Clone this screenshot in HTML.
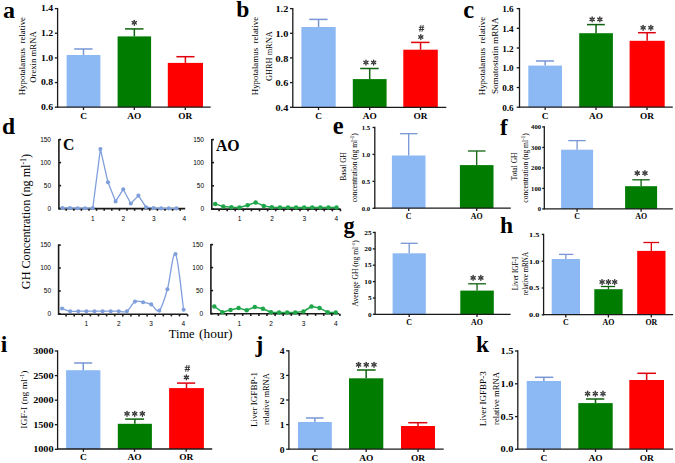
<!DOCTYPE html>
<html><head><meta charset="utf-8"><style>
html,body{margin:0;padding:0;background:#fff;}
svg{display:block;}
</style></head><body>
<svg width="675" height="463" viewBox="0 0 675 463">
<rect width="675" height="463" fill="#fff"/>
<rect x="66.6" y="55" width="33.8" height="52.2" fill="#8cb8f4"/>
<line x1="83.5" y1="55" x2="83.5" y2="49" stroke="#7896d6" stroke-width="1.5" />
<line x1="74.2" y1="49" x2="92.5" y2="49" stroke="#7896d6" stroke-width="1.5" />
<rect x="117.6" y="36.4" width="33.5" height="70.8" fill="#007c00"/>
<line x1="134.35" y1="36.4" x2="134.35" y2="28.9" stroke="#0f620f" stroke-width="1.5" />
<line x1="125" y1="28.9" x2="143.5" y2="28.9" stroke="#0f620f" stroke-width="1.5" />
<rect x="167.8" y="62.9" width="35.2" height="44.3" fill="#ff0000"/>
<line x1="185.4" y1="62.9" x2="185.4" y2="56.7" stroke="#e0000c" stroke-width="1.5" />
<line x1="176.4" y1="56.7" x2="194.5" y2="56.7" stroke="#e0000c" stroke-width="1.5" />
<line x1="57.6" y1="7.95" x2="57.6" y2="107.85" stroke="#1a1a1a" stroke-width="1.3" />
<line x1="57.6" y1="107.2" x2="210.7" y2="107.2" stroke="#1a1a1a" stroke-width="1.3" />
<line x1="54.8" y1="8.6" x2="57.6" y2="8.6" stroke="#1a1a1a" stroke-width="1.3" />
<text x="0" y="0" font-family="'Liberation Serif', serif" font-size="8.5" font-weight="bold" text-anchor="end" fill="#000" transform="translate(53.1 11.45) scale(1.1500 1)" >1.4</text>
<line x1="54.8" y1="33.25" x2="57.6" y2="33.25" stroke="#1a1a1a" stroke-width="1.3" />
<text x="0" y="0" font-family="'Liberation Serif', serif" font-size="8.5" font-weight="bold" text-anchor="end" fill="#000" transform="translate(53.1 36.1) scale(1.1500 1)" >1.2</text>
<line x1="54.8" y1="57.9" x2="57.6" y2="57.9" stroke="#1a1a1a" stroke-width="1.3" />
<text x="0" y="0" font-family="'Liberation Serif', serif" font-size="8.5" font-weight="bold" text-anchor="end" fill="#000" transform="translate(53.1 60.75) scale(1.1500 1)" >1.0</text>
<line x1="54.8" y1="82.55" x2="57.6" y2="82.55" stroke="#1a1a1a" stroke-width="1.3" />
<text x="0" y="0" font-family="'Liberation Serif', serif" font-size="8.5" font-weight="bold" text-anchor="end" fill="#000" transform="translate(53.1 85.4) scale(1.1500 1)" >0.8</text>
<line x1="54.8" y1="107.2" x2="57.6" y2="107.2" stroke="#1a1a1a" stroke-width="1.3" />
<text x="0" y="0" font-family="'Liberation Serif', serif" font-size="8.5" font-weight="bold" text-anchor="end" fill="#000" transform="translate(53.1 110.05) scale(1.1500 1)" >0.6</text>
<line x1="83.5" y1="107.2" x2="83.5" y2="110" stroke="#1a1a1a" stroke-width="1.3" />
<text x="0" y="0" font-family="'Liberation Serif', serif" font-size="8.4" font-weight="bold" text-anchor="middle" fill="#000" transform="translate(83.5 119.11) scale(1.1100 1)" >C</text>
<line x1="134.3" y1="107.2" x2="134.3" y2="110" stroke="#1a1a1a" stroke-width="1.3" />
<text x="0" y="0" font-family="'Liberation Serif', serif" font-size="8.4" font-weight="bold" text-anchor="middle" fill="#000" transform="translate(134.3 119.11) scale(1.1100 1)" >AO</text>
<line x1="185.3" y1="107.2" x2="185.3" y2="110" stroke="#1a1a1a" stroke-width="1.3" />
<text x="0" y="0" font-family="'Liberation Serif', serif" font-size="8.4" font-weight="bold" text-anchor="middle" fill="#000" transform="translate(185.3 119.11) scale(1.1100 1)" >OR</text>
<text x="0" y="0" font-family="'Liberation Serif', serif" font-size="8.9" font-weight="normal" text-anchor="middle" fill="#000" transform="translate(24.5 56.15) rotate(-90)" >Hypotalamus&#160; relative</text>
<text x="0" y="0" font-family="'Liberation Serif', serif" font-size="8.8" font-weight="normal" text-anchor="middle" fill="#000" transform="translate(36.4 57.05) rotate(-90) scale(0.9892 1)" >Orexin mRNA</text>
<line x1="134.3" y1="21.9" x2="134.3" y2="20.35" stroke="#333" stroke-width="1.35" stroke-linecap="round"/>
<line x1="135.08" y1="22.35" x2="136.42" y2="21.57" stroke="#333" stroke-width="1.35" stroke-linecap="round"/>
<line x1="135.08" y1="23.25" x2="136.42" y2="24.03" stroke="#333" stroke-width="1.35" stroke-linecap="round"/>
<line x1="134.3" y1="23.7" x2="134.3" y2="25.25" stroke="#333" stroke-width="1.35" stroke-linecap="round"/>
<line x1="133.52" y1="23.25" x2="132.18" y2="24.03" stroke="#333" stroke-width="1.35" stroke-linecap="round"/>
<line x1="133.52" y1="22.35" x2="132.18" y2="21.57" stroke="#333" stroke-width="1.35" stroke-linecap="round"/>
<rect x="301.4" y="27" width="34.3" height="80.3" fill="#8cb8f4"/>
<line x1="318.55" y1="27" x2="318.55" y2="19.4" stroke="#7896d6" stroke-width="1.5" />
<line x1="309.2" y1="19.4" x2="327.6" y2="19.4" stroke="#7896d6" stroke-width="1.5" />
<rect x="352.8" y="79.1" width="33.8" height="28.2" fill="#007c00"/>
<line x1="369.7" y1="79.1" x2="369.7" y2="68.5" stroke="#0f620f" stroke-width="1.5" />
<line x1="360.2" y1="68.5" x2="378.7" y2="68.5" stroke="#0f620f" stroke-width="1.5" />
<rect x="403.3" y="49.7" width="34.5" height="57.6" fill="#ff0000"/>
<line x1="420.55" y1="49.7" x2="420.55" y2="42.4" stroke="#e0000c" stroke-width="1.5" />
<line x1="411.1" y1="42.4" x2="429.5" y2="42.4" stroke="#e0000c" stroke-width="1.5" />
<line x1="292.8" y1="7.95" x2="292.8" y2="107.95" stroke="#1a1a1a" stroke-width="1.3" />
<line x1="292.8" y1="107.3" x2="446.3" y2="107.3" stroke="#1a1a1a" stroke-width="1.3" />
<line x1="290" y1="8.6" x2="292.8" y2="8.6" stroke="#1a1a1a" stroke-width="1.3" />
<text x="0" y="0" font-family="'Liberation Serif', serif" font-size="8.2" font-weight="bold" text-anchor="end" fill="#000" transform="translate(288.3 12.25) scale(1.2500 1)" >1.2</text>
<line x1="290" y1="33.3" x2="292.8" y2="33.3" stroke="#1a1a1a" stroke-width="1.3" />
<text x="0" y="0" font-family="'Liberation Serif', serif" font-size="8.2" font-weight="bold" text-anchor="end" fill="#000" transform="translate(288.3 36.95) scale(1.2500 1)" >1.0</text>
<line x1="290" y1="57.9" x2="292.8" y2="57.9" stroke="#1a1a1a" stroke-width="1.3" />
<text x="0" y="0" font-family="'Liberation Serif', serif" font-size="8.2" font-weight="bold" text-anchor="end" fill="#000" transform="translate(288.3 61.55) scale(1.2500 1)" >0.8</text>
<line x1="290" y1="82.6" x2="292.8" y2="82.6" stroke="#1a1a1a" stroke-width="1.3" />
<text x="0" y="0" font-family="'Liberation Serif', serif" font-size="8.2" font-weight="bold" text-anchor="end" fill="#000" transform="translate(288.3 86.25) scale(1.2500 1)" >0.6</text>
<line x1="290" y1="107.3" x2="292.8" y2="107.3" stroke="#1a1a1a" stroke-width="1.3" />
<text x="0" y="0" font-family="'Liberation Serif', serif" font-size="8.2" font-weight="bold" text-anchor="end" fill="#000" transform="translate(288.3 110.95) scale(1.2500 1)" >0.4</text>
<line x1="318.5" y1="107.3" x2="318.5" y2="110.1" stroke="#1a1a1a" stroke-width="1.3" />
<text x="0" y="0" font-family="'Liberation Serif', serif" font-size="8.4" font-weight="bold" text-anchor="middle" fill="#000" transform="translate(318.5 119.11) scale(1.1100 1)" >C</text>
<line x1="369.7" y1="107.3" x2="369.7" y2="110.1" stroke="#1a1a1a" stroke-width="1.3" />
<text x="0" y="0" font-family="'Liberation Serif', serif" font-size="8.4" font-weight="bold" text-anchor="middle" fill="#000" transform="translate(369.7 119.11) scale(1.1100 1)" >AO</text>
<line x1="420.5" y1="107.3" x2="420.5" y2="110.1" stroke="#1a1a1a" stroke-width="1.3" />
<text x="0" y="0" font-family="'Liberation Serif', serif" font-size="8.4" font-weight="bold" text-anchor="middle" fill="#000" transform="translate(420.5 119.11) scale(1.1100 1)" >OR</text>
<text x="0" y="0" font-family="'Liberation Serif', serif" font-size="8.9" font-weight="normal" text-anchor="middle" fill="#000" transform="translate(258.4 56.05) rotate(-90)" >Hypotalamus&#160; relative</text>
<text x="0" y="0" font-family="'Liberation Serif', serif" font-size="8.8" font-weight="normal" text-anchor="middle" fill="#000" transform="translate(272.1 56.15) rotate(-90) scale(0.9456 1)" >GHRH mRNA</text>
<line x1="365.95" y1="61.6" x2="365.95" y2="60.05" stroke="#333" stroke-width="1.35" stroke-linecap="round"/>
<line x1="366.73" y1="62.05" x2="368.07" y2="61.27" stroke="#333" stroke-width="1.35" stroke-linecap="round"/>
<line x1="366.73" y1="62.95" x2="368.07" y2="63.73" stroke="#333" stroke-width="1.35" stroke-linecap="round"/>
<line x1="365.95" y1="63.4" x2="365.95" y2="64.95" stroke="#333" stroke-width="1.35" stroke-linecap="round"/>
<line x1="365.17" y1="62.95" x2="363.83" y2="63.73" stroke="#333" stroke-width="1.35" stroke-linecap="round"/>
<line x1="365.17" y1="62.05" x2="363.83" y2="61.27" stroke="#333" stroke-width="1.35" stroke-linecap="round"/>
<line x1="373.65" y1="61.6" x2="373.65" y2="60.05" stroke="#333" stroke-width="1.35" stroke-linecap="round"/>
<line x1="374.43" y1="62.05" x2="375.77" y2="61.27" stroke="#333" stroke-width="1.35" stroke-linecap="round"/>
<line x1="374.43" y1="62.95" x2="375.77" y2="63.73" stroke="#333" stroke-width="1.35" stroke-linecap="round"/>
<line x1="373.65" y1="63.4" x2="373.65" y2="64.95" stroke="#333" stroke-width="1.35" stroke-linecap="round"/>
<line x1="372.87" y1="62.95" x2="371.53" y2="63.73" stroke="#333" stroke-width="1.35" stroke-linecap="round"/>
<line x1="372.87" y1="62.05" x2="371.53" y2="61.27" stroke="#333" stroke-width="1.35" stroke-linecap="round"/>
<line x1="420.8" y1="36.1" x2="420.8" y2="34.55" stroke="#333" stroke-width="1.35" stroke-linecap="round"/>
<line x1="421.58" y1="36.55" x2="422.92" y2="35.77" stroke="#333" stroke-width="1.35" stroke-linecap="round"/>
<line x1="421.58" y1="37.45" x2="422.92" y2="38.23" stroke="#333" stroke-width="1.35" stroke-linecap="round"/>
<line x1="420.8" y1="37.9" x2="420.8" y2="39.45" stroke="#333" stroke-width="1.35" stroke-linecap="round"/>
<line x1="420.02" y1="37.45" x2="418.68" y2="38.23" stroke="#333" stroke-width="1.35" stroke-linecap="round"/>
<line x1="420.02" y1="36.55" x2="418.68" y2="35.77" stroke="#333" stroke-width="1.35" stroke-linecap="round"/>
<line x1="419.8" y1="31.7" x2="421" y2="25.1" stroke="#333" stroke-width="0.95" />
<line x1="422" y1="31.7" x2="423.2" y2="25.1" stroke="#333" stroke-width="0.95" />
<line x1="418.8" y1="27.3" x2="424.2" y2="27.3" stroke="#333" stroke-width="0.95" />
<line x1="418.8" y1="29.5" x2="424.2" y2="29.5" stroke="#333" stroke-width="0.95" />
<rect x="528.3" y="65.6" width="33.7" height="41.6" fill="#8cb8f4"/>
<line x1="545.15" y1="65.6" x2="545.15" y2="61" stroke="#7896d6" stroke-width="1.5" />
<line x1="535.9" y1="61" x2="554" y2="61" stroke="#7896d6" stroke-width="1.5" />
<rect x="579.2" y="33.2" width="33.7" height="74" fill="#007c00"/>
<line x1="596.05" y1="33.2" x2="596.05" y2="24.6" stroke="#0f620f" stroke-width="1.5" />
<line x1="587" y1="24.6" x2="604.8" y2="24.6" stroke="#0f620f" stroke-width="1.5" />
<rect x="629.6" y="40.8" width="35.1" height="66.4" fill="#ff0000"/>
<line x1="647.15" y1="40.8" x2="647.15" y2="32.7" stroke="#e0000c" stroke-width="1.5" />
<line x1="638" y1="32.7" x2="655.8" y2="32.7" stroke="#e0000c" stroke-width="1.5" />
<line x1="519.5" y1="7.95" x2="519.5" y2="107.85" stroke="#1a1a1a" stroke-width="1.3" />
<line x1="519.5" y1="107.2" x2="672.8" y2="107.2" stroke="#1a1a1a" stroke-width="1.3" />
<line x1="516.7" y1="8.6" x2="519.5" y2="8.6" stroke="#1a1a1a" stroke-width="1.3" />
<text x="0" y="0" font-family="'Liberation Serif', serif" font-size="8.2" font-weight="bold" text-anchor="end" fill="#000" transform="translate(513.6 12.25) scale(1.1200 1)" >1.6</text>
<line x1="516.7" y1="28.3" x2="519.5" y2="28.3" stroke="#1a1a1a" stroke-width="1.3" />
<text x="0" y="0" font-family="'Liberation Serif', serif" font-size="8.2" font-weight="bold" text-anchor="end" fill="#000" transform="translate(513.6 31.95) scale(1.1200 1)" >1.4</text>
<line x1="516.7" y1="48" x2="519.5" y2="48" stroke="#1a1a1a" stroke-width="1.3" />
<text x="0" y="0" font-family="'Liberation Serif', serif" font-size="8.2" font-weight="bold" text-anchor="end" fill="#000" transform="translate(513.6 51.65) scale(1.1200 1)" >1.2</text>
<line x1="516.7" y1="67.8" x2="519.5" y2="67.8" stroke="#1a1a1a" stroke-width="1.3" />
<text x="0" y="0" font-family="'Liberation Serif', serif" font-size="8.2" font-weight="bold" text-anchor="end" fill="#000" transform="translate(513.6 71.45) scale(1.1200 1)" >1.0</text>
<line x1="516.7" y1="87.5" x2="519.5" y2="87.5" stroke="#1a1a1a" stroke-width="1.3" />
<text x="0" y="0" font-family="'Liberation Serif', serif" font-size="8.2" font-weight="bold" text-anchor="end" fill="#000" transform="translate(513.6 91.15) scale(1.1200 1)" >0.8</text>
<line x1="516.7" y1="107.2" x2="519.5" y2="107.2" stroke="#1a1a1a" stroke-width="1.3" />
<text x="0" y="0" font-family="'Liberation Serif', serif" font-size="8.2" font-weight="bold" text-anchor="end" fill="#000" transform="translate(513.6 110.85) scale(1.1200 1)" >0.6</text>
<line x1="545.2" y1="107.2" x2="545.2" y2="110" stroke="#1a1a1a" stroke-width="1.3" />
<text x="0" y="0" font-family="'Liberation Serif', serif" font-size="8.4" font-weight="bold" text-anchor="middle" fill="#000" transform="translate(545.2 119.11) scale(1.1100 1)" >C</text>
<line x1="596" y1="107.2" x2="596" y2="110" stroke="#1a1a1a" stroke-width="1.3" />
<text x="0" y="0" font-family="'Liberation Serif', serif" font-size="8.4" font-weight="bold" text-anchor="middle" fill="#000" transform="translate(596 119.11) scale(1.1100 1)" >AO</text>
<line x1="647" y1="107.2" x2="647" y2="110" stroke="#1a1a1a" stroke-width="1.3" />
<text x="0" y="0" font-family="'Liberation Serif', serif" font-size="8.4" font-weight="bold" text-anchor="middle" fill="#000" transform="translate(647 119.11) scale(1.1100 1)" >OR</text>
<text x="0" y="0" font-family="'Liberation Serif', serif" font-size="8.9" font-weight="normal" text-anchor="middle" fill="#000" transform="translate(484.5 56.05) rotate(-90)" >Hypotalamus&#160; relative</text>
<text x="0" y="0" font-family="'Liberation Serif', serif" font-size="8.9" font-weight="normal" text-anchor="middle" fill="#000" transform="translate(498.1 55.75) rotate(-90) scale(1.0334 1)" >Somatostatin mRNA</text>
<line x1="592.15" y1="18.5" x2="592.15" y2="16.95" stroke="#333" stroke-width="1.35" stroke-linecap="round"/>
<line x1="592.93" y1="18.95" x2="594.27" y2="18.17" stroke="#333" stroke-width="1.35" stroke-linecap="round"/>
<line x1="592.93" y1="19.85" x2="594.27" y2="20.62" stroke="#333" stroke-width="1.35" stroke-linecap="round"/>
<line x1="592.15" y1="20.3" x2="592.15" y2="21.85" stroke="#333" stroke-width="1.35" stroke-linecap="round"/>
<line x1="591.37" y1="19.85" x2="590.03" y2="20.62" stroke="#333" stroke-width="1.35" stroke-linecap="round"/>
<line x1="591.37" y1="18.95" x2="590.03" y2="18.17" stroke="#333" stroke-width="1.35" stroke-linecap="round"/>
<line x1="599.85" y1="18.5" x2="599.85" y2="16.95" stroke="#333" stroke-width="1.35" stroke-linecap="round"/>
<line x1="600.63" y1="18.95" x2="601.97" y2="18.17" stroke="#333" stroke-width="1.35" stroke-linecap="round"/>
<line x1="600.63" y1="19.85" x2="601.97" y2="20.62" stroke="#333" stroke-width="1.35" stroke-linecap="round"/>
<line x1="599.85" y1="20.3" x2="599.85" y2="21.85" stroke="#333" stroke-width="1.35" stroke-linecap="round"/>
<line x1="599.07" y1="19.85" x2="597.73" y2="20.62" stroke="#333" stroke-width="1.35" stroke-linecap="round"/>
<line x1="599.07" y1="18.95" x2="597.73" y2="18.17" stroke="#333" stroke-width="1.35" stroke-linecap="round"/>
<line x1="643.15" y1="26.9" x2="643.15" y2="25.35" stroke="#333" stroke-width="1.35" stroke-linecap="round"/>
<line x1="643.93" y1="27.35" x2="645.27" y2="26.57" stroke="#333" stroke-width="1.35" stroke-linecap="round"/>
<line x1="643.93" y1="28.25" x2="645.27" y2="29.03" stroke="#333" stroke-width="1.35" stroke-linecap="round"/>
<line x1="643.15" y1="28.7" x2="643.15" y2="30.25" stroke="#333" stroke-width="1.35" stroke-linecap="round"/>
<line x1="642.37" y1="28.25" x2="641.03" y2="29.03" stroke="#333" stroke-width="1.35" stroke-linecap="round"/>
<line x1="642.37" y1="27.35" x2="641.03" y2="26.57" stroke="#333" stroke-width="1.35" stroke-linecap="round"/>
<line x1="650.85" y1="26.9" x2="650.85" y2="25.35" stroke="#333" stroke-width="1.35" stroke-linecap="round"/>
<line x1="651.63" y1="27.35" x2="652.97" y2="26.57" stroke="#333" stroke-width="1.35" stroke-linecap="round"/>
<line x1="651.63" y1="28.25" x2="652.97" y2="29.03" stroke="#333" stroke-width="1.35" stroke-linecap="round"/>
<line x1="650.85" y1="28.7" x2="650.85" y2="30.25" stroke="#333" stroke-width="1.35" stroke-linecap="round"/>
<line x1="650.07" y1="28.25" x2="648.73" y2="29.03" stroke="#333" stroke-width="1.35" stroke-linecap="round"/>
<line x1="650.07" y1="27.35" x2="648.73" y2="26.57" stroke="#333" stroke-width="1.35" stroke-linecap="round"/>
<rect x="391.9" y="155.5" width="33.6" height="52.7" fill="#8cb8f4"/>
<line x1="408.7" y1="155.5" x2="408.7" y2="133.7" stroke="#7896d6" stroke-width="1.3" />
<line x1="399.9" y1="133.7" x2="417.5" y2="133.7" stroke="#7896d6" stroke-width="1.3" />
<rect x="459.9" y="165.1" width="33.6" height="43.1" fill="#007c00"/>
<line x1="476.7" y1="165.1" x2="476.7" y2="151" stroke="#0f620f" stroke-width="1.3" />
<line x1="467.9" y1="151" x2="485.5" y2="151" stroke="#0f620f" stroke-width="1.3" />
<line x1="374.8" y1="126.85" x2="374.8" y2="208.85" stroke="#1a1a1a" stroke-width="1.3" />
<line x1="374.8" y1="208.2" x2="510.8" y2="208.2" stroke="#1a1a1a" stroke-width="1.3" />
<line x1="372.5" y1="127.5" x2="374.8" y2="127.5" stroke="#1a1a1a" stroke-width="1.3" />
<text x="0" y="0" font-family="'Liberation Serif', serif" font-size="5.2" font-weight="bold" text-anchor="end" fill="#000" transform="translate(370.2 130.04) scale(1.3000 1)" >1.5</text>
<line x1="372.5" y1="154.4" x2="374.8" y2="154.4" stroke="#1a1a1a" stroke-width="1.3" />
<text x="0" y="0" font-family="'Liberation Serif', serif" font-size="5.2" font-weight="bold" text-anchor="end" fill="#000" transform="translate(370.2 156.94) scale(1.3000 1)" >1.0</text>
<line x1="372.5" y1="181.3" x2="374.8" y2="181.3" stroke="#1a1a1a" stroke-width="1.3" />
<text x="0" y="0" font-family="'Liberation Serif', serif" font-size="5.2" font-weight="bold" text-anchor="end" fill="#000" transform="translate(370.2 183.84) scale(1.3000 1)" >0.5</text>
<line x1="372.5" y1="208.3" x2="374.8" y2="208.3" stroke="#1a1a1a" stroke-width="1.3" />
<text x="0" y="0" font-family="'Liberation Serif', serif" font-size="5.2" font-weight="bold" text-anchor="end" fill="#000" transform="translate(370.2 210.84) scale(1.3000 1)" >0.0</text>
<line x1="408.7" y1="208.2" x2="408.7" y2="211" stroke="#1a1a1a" stroke-width="1.3" />
<text x="0" y="0" font-family="'Liberation Serif', serif" font-size="7.2" font-weight="bold" text-anchor="middle" fill="#000" transform="translate(408.7 218.71) scale(1.1000 1)" >C</text>
<line x1="476.7" y1="208.2" x2="476.7" y2="211" stroke="#1a1a1a" stroke-width="1.3" />
<text x="0" y="0" font-family="'Liberation Serif', serif" font-size="7.2" font-weight="bold" text-anchor="middle" fill="#000" transform="translate(476.7 218.71) scale(1.1000 1)" >AO</text>
<text x="0" y="0" font-family="'Liberation Serif', serif" font-size="7.8" font-weight="normal" text-anchor="middle" fill="#000" transform="translate(346.2 166.5) rotate(-90) scale(0.9232 1)" >Basal GH</text>
<text x="0" y="0" font-family="'Liberation Serif', serif" font-size="8" font-weight="normal" text-anchor="middle" fill="#000" transform="translate(356.9 167.8) rotate(-90) scale(0.9370 1)" >concentration (ng ml<tspan dy="-2.64" font-size="5.2">-1</tspan><tspan dy="2.64">)</tspan></text>
<rect x="561.1" y="149.7" width="32" height="59.2" fill="#8cb8f4"/>
<line x1="577.1" y1="149.7" x2="577.1" y2="140.6" stroke="#7896d6" stroke-width="1.3" />
<line x1="568.3" y1="140.6" x2="585.7" y2="140.6" stroke="#7896d6" stroke-width="1.3" />
<rect x="625.1" y="186.2" width="32" height="22.7" fill="#007c00"/>
<line x1="641.1" y1="186.2" x2="641.1" y2="179.8" stroke="#0f620f" stroke-width="1.3" />
<line x1="632.3" y1="179.8" x2="649.7" y2="179.8" stroke="#0f620f" stroke-width="1.3" />
<line x1="544.3" y1="126.25" x2="544.3" y2="209.55" stroke="#1a1a1a" stroke-width="1.3" />
<line x1="544.3" y1="208.9" x2="672.9" y2="208.9" stroke="#1a1a1a" stroke-width="1.3" />
<line x1="542.2" y1="126.9" x2="544.3" y2="126.9" stroke="#1a1a1a" stroke-width="1.3" />
<text x="0" y="0" font-family="'Liberation Serif', serif" font-size="5.5" font-weight="bold" text-anchor="end" fill="#000" transform="translate(541 129.14) scale(1.2000 1)" >400</text>
<line x1="542.2" y1="147.4" x2="544.3" y2="147.4" stroke="#1a1a1a" stroke-width="1.3" />
<text x="0" y="0" font-family="'Liberation Serif', serif" font-size="5.5" font-weight="bold" text-anchor="end" fill="#000" transform="translate(541 149.64) scale(1.2000 1)" >300</text>
<line x1="542.2" y1="167.9" x2="544.3" y2="167.9" stroke="#1a1a1a" stroke-width="1.3" />
<text x="0" y="0" font-family="'Liberation Serif', serif" font-size="5.5" font-weight="bold" text-anchor="end" fill="#000" transform="translate(541 170.14) scale(1.2000 1)" >200</text>
<line x1="542.2" y1="188.4" x2="544.3" y2="188.4" stroke="#1a1a1a" stroke-width="1.3" />
<text x="0" y="0" font-family="'Liberation Serif', serif" font-size="5.5" font-weight="bold" text-anchor="end" fill="#000" transform="translate(541 190.64) scale(1.2000 1)" >100</text>
<line x1="542.2" y1="208.9" x2="544.3" y2="208.9" stroke="#1a1a1a" stroke-width="1.3" />
<text x="0" y="0" font-family="'Liberation Serif', serif" font-size="5.5" font-weight="bold" text-anchor="end" fill="#000" transform="translate(541 211.14) scale(1.2000 1)" >0</text>
<line x1="577.1" y1="208.9" x2="577.1" y2="211.7" stroke="#1a1a1a" stroke-width="1.3" />
<text x="0" y="0" font-family="'Liberation Serif', serif" font-size="7.2" font-weight="bold" text-anchor="middle" fill="#000" transform="translate(577.1 218.71) scale(1.1000 1)" >C</text>
<line x1="641.1" y1="208.9" x2="641.1" y2="211.7" stroke="#1a1a1a" stroke-width="1.3" />
<text x="0" y="0" font-family="'Liberation Serif', serif" font-size="7.2" font-weight="bold" text-anchor="middle" fill="#000" transform="translate(641.1 218.71) scale(1.1000 1)" >AO</text>
<text x="0" y="0" font-family="'Liberation Serif', serif" font-size="7.8" font-weight="normal" text-anchor="middle" fill="#000" transform="translate(516.6 166.5) rotate(-90) scale(0.9680 1)" >Total GH</text>
<text x="0" y="0" font-family="'Liberation Serif', serif" font-size="8" font-weight="normal" text-anchor="middle" fill="#000" transform="translate(527.8 168) rotate(-90) scale(0.9424 1)" >concentration (ng ml<tspan dy="-2.64" font-size="5.2">-1</tspan><tspan dy="2.64">)</tspan></text>
<line x1="637.25" y1="172.2" x2="637.25" y2="170.65" stroke="#333" stroke-width="1.35" stroke-linecap="round"/>
<line x1="638.03" y1="172.65" x2="639.37" y2="171.88" stroke="#333" stroke-width="1.35" stroke-linecap="round"/>
<line x1="638.03" y1="173.55" x2="639.37" y2="174.32" stroke="#333" stroke-width="1.35" stroke-linecap="round"/>
<line x1="637.25" y1="174" x2="637.25" y2="175.55" stroke="#333" stroke-width="1.35" stroke-linecap="round"/>
<line x1="636.47" y1="173.55" x2="635.13" y2="174.32" stroke="#333" stroke-width="1.35" stroke-linecap="round"/>
<line x1="636.47" y1="172.65" x2="635.13" y2="171.88" stroke="#333" stroke-width="1.35" stroke-linecap="round"/>
<line x1="644.95" y1="172.2" x2="644.95" y2="170.65" stroke="#333" stroke-width="1.35" stroke-linecap="round"/>
<line x1="645.73" y1="172.65" x2="647.07" y2="171.88" stroke="#333" stroke-width="1.35" stroke-linecap="round"/>
<line x1="645.73" y1="173.55" x2="647.07" y2="174.32" stroke="#333" stroke-width="1.35" stroke-linecap="round"/>
<line x1="644.95" y1="174" x2="644.95" y2="175.55" stroke="#333" stroke-width="1.35" stroke-linecap="round"/>
<line x1="644.17" y1="173.55" x2="642.83" y2="174.32" stroke="#333" stroke-width="1.35" stroke-linecap="round"/>
<line x1="644.17" y1="172.65" x2="642.83" y2="171.88" stroke="#333" stroke-width="1.35" stroke-linecap="round"/>
<rect x="392.6" y="253.3" width="33.2" height="61" fill="#8cb8f4"/>
<line x1="409.2" y1="253.3" x2="409.2" y2="243.3" stroke="#7896d6" stroke-width="1.3" />
<line x1="400.7" y1="243.3" x2="417.7" y2="243.3" stroke="#7896d6" stroke-width="1.3" />
<rect x="460.3" y="290.6" width="33.5" height="23.7" fill="#007c00"/>
<line x1="477.05" y1="290.6" x2="477.05" y2="283.8" stroke="#0f620f" stroke-width="1.3" />
<line x1="468.2" y1="283.8" x2="486" y2="283.8" stroke="#0f620f" stroke-width="1.3" />
<line x1="375.1" y1="231.85" x2="375.1" y2="314.95" stroke="#1a1a1a" stroke-width="1.3" />
<line x1="375.1" y1="314.3" x2="510.6" y2="314.3" stroke="#1a1a1a" stroke-width="1.3" />
<line x1="372.8" y1="232.5" x2="375.1" y2="232.5" stroke="#1a1a1a" stroke-width="1.3" />
<text x="0" y="0" font-family="'Liberation Serif', serif" font-size="5.2" font-weight="bold" text-anchor="end" fill="#000" transform="translate(371.6 234.74) scale(1.4000 1)" >25</text>
<line x1="372.8" y1="248.9" x2="375.1" y2="248.9" stroke="#1a1a1a" stroke-width="1.3" />
<text x="0" y="0" font-family="'Liberation Serif', serif" font-size="5.2" font-weight="bold" text-anchor="end" fill="#000" transform="translate(371.6 251.14) scale(1.4000 1)" >20</text>
<line x1="372.8" y1="265.2" x2="375.1" y2="265.2" stroke="#1a1a1a" stroke-width="1.3" />
<text x="0" y="0" font-family="'Liberation Serif', serif" font-size="5.2" font-weight="bold" text-anchor="end" fill="#000" transform="translate(371.6 267.44) scale(1.4000 1)" >15</text>
<line x1="372.8" y1="281.6" x2="375.1" y2="281.6" stroke="#1a1a1a" stroke-width="1.3" />
<text x="0" y="0" font-family="'Liberation Serif', serif" font-size="5.2" font-weight="bold" text-anchor="end" fill="#000" transform="translate(371.6 283.84) scale(1.4000 1)" >10</text>
<line x1="372.8" y1="298" x2="375.1" y2="298" stroke="#1a1a1a" stroke-width="1.3" />
<text x="0" y="0" font-family="'Liberation Serif', serif" font-size="5.2" font-weight="bold" text-anchor="end" fill="#000" transform="translate(371.6 300.24) scale(1.4000 1)" >5</text>
<line x1="372.8" y1="314.3" x2="375.1" y2="314.3" stroke="#1a1a1a" stroke-width="1.3" />
<text x="0" y="0" font-family="'Liberation Serif', serif" font-size="5.2" font-weight="bold" text-anchor="end" fill="#000" transform="translate(371.6 316.54) scale(1.4000 1)" >0</text>
<line x1="409.2" y1="314.3" x2="409.2" y2="317.1" stroke="#1a1a1a" stroke-width="1.3" />
<text x="0" y="0" font-family="'Liberation Serif', serif" font-size="7.2" font-weight="bold" text-anchor="middle" fill="#000" transform="translate(409.2 325.11) scale(1.1000 1)" >C</text>
<line x1="477" y1="314.3" x2="477" y2="317.1" stroke="#1a1a1a" stroke-width="1.3" />
<text x="0" y="0" font-family="'Liberation Serif', serif" font-size="7.2" font-weight="bold" text-anchor="middle" fill="#000" transform="translate(477 325.11) scale(1.1000 1)" >AO</text>
<text x="0" y="0" font-family="'Liberation Serif', serif" font-size="7.5" font-weight="normal" text-anchor="middle" fill="#000" transform="translate(357.8 273.35) rotate(-90) scale(1.0079 1)" >Average GH (ng ml<tspan dy="-2.48" font-size="4.88">-1</tspan><tspan dy="2.48">)</tspan></text>
<line x1="473.15" y1="277" x2="473.15" y2="275.45" stroke="#333" stroke-width="1.35" stroke-linecap="round"/>
<line x1="473.93" y1="277.45" x2="475.27" y2="276.67" stroke="#333" stroke-width="1.35" stroke-linecap="round"/>
<line x1="473.93" y1="278.35" x2="475.27" y2="279.12" stroke="#333" stroke-width="1.35" stroke-linecap="round"/>
<line x1="473.15" y1="278.8" x2="473.15" y2="280.35" stroke="#333" stroke-width="1.35" stroke-linecap="round"/>
<line x1="472.37" y1="278.35" x2="471.03" y2="279.12" stroke="#333" stroke-width="1.35" stroke-linecap="round"/>
<line x1="472.37" y1="277.45" x2="471.03" y2="276.67" stroke="#333" stroke-width="1.35" stroke-linecap="round"/>
<line x1="480.85" y1="277" x2="480.85" y2="275.45" stroke="#333" stroke-width="1.35" stroke-linecap="round"/>
<line x1="481.63" y1="277.45" x2="482.97" y2="276.67" stroke="#333" stroke-width="1.35" stroke-linecap="round"/>
<line x1="481.63" y1="278.35" x2="482.97" y2="279.12" stroke="#333" stroke-width="1.35" stroke-linecap="round"/>
<line x1="480.85" y1="278.8" x2="480.85" y2="280.35" stroke="#333" stroke-width="1.35" stroke-linecap="round"/>
<line x1="480.07" y1="278.35" x2="478.73" y2="279.12" stroke="#333" stroke-width="1.35" stroke-linecap="round"/>
<line x1="480.07" y1="277.45" x2="478.73" y2="276.67" stroke="#333" stroke-width="1.35" stroke-linecap="round"/>
<rect x="551.7" y="259" width="28.3" height="55.7" fill="#8cb8f4"/>
<line x1="565.85" y1="259" x2="565.85" y2="254.4" stroke="#7896d6" stroke-width="1.3" />
<line x1="559" y1="254.4" x2="573.3" y2="254.4" stroke="#7896d6" stroke-width="1.3" />
<rect x="594.3" y="289.2" width="28.3" height="25.5" fill="#007c00"/>
<line x1="608.45" y1="289.2" x2="608.45" y2="286.5" stroke="#0f620f" stroke-width="1.3" />
<line x1="600.8" y1="286.5" x2="615.1" y2="286.5" stroke="#0f620f" stroke-width="1.3" />
<rect x="637.2" y="250.9" width="28.3" height="63.8" fill="#ff0000"/>
<line x1="651.35" y1="250.9" x2="651.35" y2="242.5" stroke="#e0000c" stroke-width="1.3" />
<line x1="643.4" y1="242.5" x2="659.1" y2="242.5" stroke="#e0000c" stroke-width="1.3" />
<line x1="543.6" y1="233.75" x2="543.6" y2="315.35" stroke="#1a1a1a" stroke-width="1.3" />
<line x1="543.6" y1="314.7" x2="673.1" y2="314.7" stroke="#1a1a1a" stroke-width="1.3" />
<line x1="541.7" y1="234.4" x2="543.6" y2="234.4" stroke="#1a1a1a" stroke-width="1.3" />
<text x="0" y="0" font-family="'Liberation Serif', serif" font-size="5.8" font-weight="bold" text-anchor="end" fill="#000" transform="translate(539.4 236.84) scale(1.4200 1)" >1.5</text>
<line x1="541.7" y1="261.2" x2="543.6" y2="261.2" stroke="#1a1a1a" stroke-width="1.3" />
<text x="0" y="0" font-family="'Liberation Serif', serif" font-size="5.8" font-weight="bold" text-anchor="end" fill="#000" transform="translate(539.4 263.64) scale(1.4200 1)" >1.0</text>
<line x1="541.7" y1="288" x2="543.6" y2="288" stroke="#1a1a1a" stroke-width="1.3" />
<text x="0" y="0" font-family="'Liberation Serif', serif" font-size="5.8" font-weight="bold" text-anchor="end" fill="#000" transform="translate(539.4 290.44) scale(1.4200 1)" >0.5</text>
<line x1="541.7" y1="314.8" x2="543.6" y2="314.8" stroke="#1a1a1a" stroke-width="1.3" />
<text x="0" y="0" font-family="'Liberation Serif', serif" font-size="5.8" font-weight="bold" text-anchor="end" fill="#000" transform="translate(539.4 317.24) scale(1.4200 1)" >0.0</text>
<line x1="565.8" y1="314.7" x2="565.8" y2="317.5" stroke="#1a1a1a" stroke-width="1.3" />
<text x="0" y="0" font-family="'Liberation Serif', serif" font-size="7.2" font-weight="bold" text-anchor="middle" fill="#000" transform="translate(565.8 324.51) scale(1.1000 1)" >C</text>
<line x1="608.4" y1="314.7" x2="608.4" y2="317.5" stroke="#1a1a1a" stroke-width="1.3" />
<text x="0" y="0" font-family="'Liberation Serif', serif" font-size="7.2" font-weight="bold" text-anchor="middle" fill="#000" transform="translate(608.4 324.51) scale(1.1000 1)" >AO</text>
<line x1="651.3" y1="314.7" x2="651.3" y2="317.5" stroke="#1a1a1a" stroke-width="1.3" />
<text x="0" y="0" font-family="'Liberation Serif', serif" font-size="7.2" font-weight="bold" text-anchor="middle" fill="#000" transform="translate(651.3 324.51) scale(1.1000 1)" >OR</text>
<text x="0" y="0" font-family="'Liberation Serif', serif" font-size="7.4" font-weight="normal" text-anchor="middle" fill="#000" transform="translate(517.6 273.5) rotate(-90) scale(0.9676 1)" >Liver IGF-I</text>
<text x="0" y="0" font-family="'Liberation Serif', serif" font-size="7.4" font-weight="normal" text-anchor="middle" fill="#000" transform="translate(527.9 273.65) rotate(-90) scale(0.9578 1)" >relative mRNA</text>
<line x1="602.1" y1="281.1" x2="602.1" y2="279.55" stroke="#333" stroke-width="1.35" stroke-linecap="round"/>
<line x1="602.88" y1="281.55" x2="604.22" y2="280.77" stroke="#333" stroke-width="1.35" stroke-linecap="round"/>
<line x1="602.88" y1="282.45" x2="604.22" y2="283.23" stroke="#333" stroke-width="1.35" stroke-linecap="round"/>
<line x1="602.1" y1="282.9" x2="602.1" y2="284.45" stroke="#333" stroke-width="1.35" stroke-linecap="round"/>
<line x1="601.32" y1="282.45" x2="599.98" y2="283.23" stroke="#333" stroke-width="1.35" stroke-linecap="round"/>
<line x1="601.32" y1="281.55" x2="599.98" y2="280.77" stroke="#333" stroke-width="1.35" stroke-linecap="round"/>
<line x1="608.4" y1="281.1" x2="608.4" y2="279.55" stroke="#333" stroke-width="1.35" stroke-linecap="round"/>
<line x1="609.18" y1="281.55" x2="610.52" y2="280.77" stroke="#333" stroke-width="1.35" stroke-linecap="round"/>
<line x1="609.18" y1="282.45" x2="610.52" y2="283.23" stroke="#333" stroke-width="1.35" stroke-linecap="round"/>
<line x1="608.4" y1="282.9" x2="608.4" y2="284.45" stroke="#333" stroke-width="1.35" stroke-linecap="round"/>
<line x1="607.62" y1="282.45" x2="606.28" y2="283.23" stroke="#333" stroke-width="1.35" stroke-linecap="round"/>
<line x1="607.62" y1="281.55" x2="606.28" y2="280.77" stroke="#333" stroke-width="1.35" stroke-linecap="round"/>
<line x1="614.7" y1="281.1" x2="614.7" y2="279.55" stroke="#333" stroke-width="1.35" stroke-linecap="round"/>
<line x1="615.48" y1="281.55" x2="616.82" y2="280.77" stroke="#333" stroke-width="1.35" stroke-linecap="round"/>
<line x1="615.48" y1="282.45" x2="616.82" y2="283.23" stroke="#333" stroke-width="1.35" stroke-linecap="round"/>
<line x1="614.7" y1="282.9" x2="614.7" y2="284.45" stroke="#333" stroke-width="1.35" stroke-linecap="round"/>
<line x1="613.92" y1="282.45" x2="612.58" y2="283.23" stroke="#333" stroke-width="1.35" stroke-linecap="round"/>
<line x1="613.92" y1="281.55" x2="612.58" y2="280.77" stroke="#333" stroke-width="1.35" stroke-linecap="round"/>
<rect x="66.1" y="370.2" width="34.3" height="78.8" fill="#8cb8f4"/>
<line x1="83.25" y1="370.2" x2="83.25" y2="363" stroke="#7896d6" stroke-width="1.5" />
<line x1="74.1" y1="363" x2="92.2" y2="363" stroke="#7896d6" stroke-width="1.5" />
<rect x="117.8" y="423.8" width="34.1" height="25.2" fill="#007c00"/>
<line x1="134.85" y1="423.8" x2="134.85" y2="419.1" stroke="#0f620f" stroke-width="1.5" />
<line x1="125.2" y1="419.1" x2="144.1" y2="419.1" stroke="#0f620f" stroke-width="1.5" />
<rect x="169.1" y="388.1" width="34.8" height="60.9" fill="#ff0000"/>
<line x1="186.5" y1="388.1" x2="186.5" y2="383.1" stroke="#e0000c" stroke-width="1.5" />
<line x1="177" y1="383.1" x2="195.2" y2="383.1" stroke="#e0000c" stroke-width="1.5" />
<line x1="57.6" y1="350.35" x2="57.6" y2="449.65" stroke="#1a1a1a" stroke-width="1.3" />
<line x1="57.6" y1="449" x2="212.2" y2="449" stroke="#1a1a1a" stroke-width="1.3" />
<line x1="54.8" y1="351" x2="57.6" y2="351" stroke="#1a1a1a" stroke-width="1.3" />
<text x="0" y="0" font-family="'Liberation Serif', serif" font-size="8.2" font-weight="bold" text-anchor="end" fill="#000" transform="translate(53.6 354.05) scale(1.2500 1)" >3000</text>
<line x1="54.8" y1="375.6" x2="57.6" y2="375.6" stroke="#1a1a1a" stroke-width="1.3" />
<text x="0" y="0" font-family="'Liberation Serif', serif" font-size="8.2" font-weight="bold" text-anchor="end" fill="#000" transform="translate(53.6 378.65) scale(1.2500 1)" >2500</text>
<line x1="54.8" y1="400.2" x2="57.6" y2="400.2" stroke="#1a1a1a" stroke-width="1.3" />
<text x="0" y="0" font-family="'Liberation Serif', serif" font-size="8.2" font-weight="bold" text-anchor="end" fill="#000" transform="translate(53.6 403.25) scale(1.2500 1)" >2000</text>
<line x1="54.8" y1="424.7" x2="57.6" y2="424.7" stroke="#1a1a1a" stroke-width="1.3" />
<text x="0" y="0" font-family="'Liberation Serif', serif" font-size="8.2" font-weight="bold" text-anchor="end" fill="#000" transform="translate(53.6 427.75) scale(1.2500 1)" >1500</text>
<line x1="54.8" y1="449.3" x2="57.6" y2="449.3" stroke="#1a1a1a" stroke-width="1.3" />
<text x="0" y="0" font-family="'Liberation Serif', serif" font-size="8.2" font-weight="bold" text-anchor="end" fill="#000" transform="translate(53.6 452.35) scale(1.2500 1)" >1000</text>
<line x1="83.4" y1="449" x2="83.4" y2="451.8" stroke="#1a1a1a" stroke-width="1.3" />
<text x="0" y="0" font-family="'Liberation Serif', serif" font-size="8.2" font-weight="bold" text-anchor="middle" fill="#000" transform="translate(83.4 460.05) scale(1.1500 1)" >C</text>
<line x1="134.5" y1="449" x2="134.5" y2="451.8" stroke="#1a1a1a" stroke-width="1.3" />
<text x="0" y="0" font-family="'Liberation Serif', serif" font-size="8.2" font-weight="bold" text-anchor="middle" fill="#000" transform="translate(134.5 460.05) scale(1.1500 1)" >AO</text>
<line x1="186.2" y1="449" x2="186.2" y2="451.8" stroke="#1a1a1a" stroke-width="1.3" />
<text x="0" y="0" font-family="'Liberation Serif', serif" font-size="8.2" font-weight="bold" text-anchor="middle" fill="#000" transform="translate(186.2 460.05) scale(1.1500 1)" >OR</text>
<text x="0" y="0" font-family="'Liberation Serif', serif" font-size="8.8" font-weight="normal" text-anchor="middle" fill="#000" transform="translate(26.6 399.7) rotate(-90) scale(1.0949 1)" >IGF-I (ng ml<tspan dy="-2.9" font-size="5.72">-1</tspan><tspan dy="2.9">)</tspan></text>
<line x1="127" y1="412.9" x2="127" y2="411.35" stroke="#333" stroke-width="1.35" stroke-linecap="round"/>
<line x1="127.78" y1="413.35" x2="129.12" y2="412.57" stroke="#333" stroke-width="1.35" stroke-linecap="round"/>
<line x1="127.78" y1="414.25" x2="129.12" y2="415.03" stroke="#333" stroke-width="1.35" stroke-linecap="round"/>
<line x1="127" y1="414.7" x2="127" y2="416.25" stroke="#333" stroke-width="1.35" stroke-linecap="round"/>
<line x1="126.22" y1="414.25" x2="124.88" y2="415.03" stroke="#333" stroke-width="1.35" stroke-linecap="round"/>
<line x1="126.22" y1="413.35" x2="124.88" y2="412.57" stroke="#333" stroke-width="1.35" stroke-linecap="round"/>
<line x1="134.7" y1="412.9" x2="134.7" y2="411.35" stroke="#333" stroke-width="1.35" stroke-linecap="round"/>
<line x1="135.48" y1="413.35" x2="136.82" y2="412.57" stroke="#333" stroke-width="1.35" stroke-linecap="round"/>
<line x1="135.48" y1="414.25" x2="136.82" y2="415.03" stroke="#333" stroke-width="1.35" stroke-linecap="round"/>
<line x1="134.7" y1="414.7" x2="134.7" y2="416.25" stroke="#333" stroke-width="1.35" stroke-linecap="round"/>
<line x1="133.92" y1="414.25" x2="132.58" y2="415.03" stroke="#333" stroke-width="1.35" stroke-linecap="round"/>
<line x1="133.92" y1="413.35" x2="132.58" y2="412.57" stroke="#333" stroke-width="1.35" stroke-linecap="round"/>
<line x1="142.4" y1="412.9" x2="142.4" y2="411.35" stroke="#333" stroke-width="1.35" stroke-linecap="round"/>
<line x1="143.18" y1="413.35" x2="144.52" y2="412.57" stroke="#333" stroke-width="1.35" stroke-linecap="round"/>
<line x1="143.18" y1="414.25" x2="144.52" y2="415.03" stroke="#333" stroke-width="1.35" stroke-linecap="round"/>
<line x1="142.4" y1="414.7" x2="142.4" y2="416.25" stroke="#333" stroke-width="1.35" stroke-linecap="round"/>
<line x1="141.62" y1="414.25" x2="140.28" y2="415.03" stroke="#333" stroke-width="1.35" stroke-linecap="round"/>
<line x1="141.62" y1="413.35" x2="140.28" y2="412.57" stroke="#333" stroke-width="1.35" stroke-linecap="round"/>
<line x1="186.4" y1="376.5" x2="186.4" y2="374.95" stroke="#333" stroke-width="1.35" stroke-linecap="round"/>
<line x1="187.18" y1="376.95" x2="188.52" y2="376.17" stroke="#333" stroke-width="1.35" stroke-linecap="round"/>
<line x1="187.18" y1="377.85" x2="188.52" y2="378.62" stroke="#333" stroke-width="1.35" stroke-linecap="round"/>
<line x1="186.4" y1="378.3" x2="186.4" y2="379.85" stroke="#333" stroke-width="1.35" stroke-linecap="round"/>
<line x1="185.62" y1="377.85" x2="184.28" y2="378.62" stroke="#333" stroke-width="1.35" stroke-linecap="round"/>
<line x1="185.62" y1="376.95" x2="184.28" y2="376.17" stroke="#333" stroke-width="1.35" stroke-linecap="round"/>
<line x1="185.7" y1="371.7" x2="186.9" y2="365.1" stroke="#333" stroke-width="0.95" />
<line x1="187.9" y1="371.7" x2="189.1" y2="365.1" stroke="#333" stroke-width="0.95" />
<line x1="184.7" y1="367.3" x2="190.1" y2="367.3" stroke="#333" stroke-width="0.95" />
<line x1="184.7" y1="369.5" x2="190.1" y2="369.5" stroke="#333" stroke-width="0.95" />
<rect x="298" y="422" width="33.8" height="27.1" fill="#8cb8f4"/>
<line x1="314.9" y1="422" x2="314.9" y2="418" stroke="#7896d6" stroke-width="1.5" />
<line x1="306" y1="418" x2="323.5" y2="418" stroke="#7896d6" stroke-width="1.5" />
<rect x="349" y="378.3" width="34.3" height="70.8" fill="#007c00"/>
<line x1="366.15" y1="378.3" x2="366.15" y2="370" stroke="#0f620f" stroke-width="1.5" />
<line x1="356.9" y1="370" x2="375.6" y2="370" stroke="#0f620f" stroke-width="1.5" />
<rect x="401" y="426" width="34" height="23.1" fill="#ff0000"/>
<line x1="418" y1="426" x2="418" y2="422.7" stroke="#e0000c" stroke-width="1.5" />
<line x1="408.3" y1="422.7" x2="427.3" y2="422.7" stroke="#e0000c" stroke-width="1.5" />
<line x1="288.9" y1="350.15" x2="288.9" y2="449.75" stroke="#1a1a1a" stroke-width="1.3" />
<line x1="288.9" y1="449.1" x2="443.7" y2="449.1" stroke="#1a1a1a" stroke-width="1.3" />
<line x1="286.1" y1="350.8" x2="288.9" y2="350.8" stroke="#1a1a1a" stroke-width="1.3" />
<text x="0" y="0" font-family="'Liberation Serif', serif" font-size="8" font-weight="bold" text-anchor="end" fill="#000" transform="translate(284.5 354.48) scale(1.2000 1)" >4</text>
<line x1="286.1" y1="375.4" x2="288.9" y2="375.4" stroke="#1a1a1a" stroke-width="1.3" />
<text x="0" y="0" font-family="'Liberation Serif', serif" font-size="8" font-weight="bold" text-anchor="end" fill="#000" transform="translate(284.5 379.08) scale(1.2000 1)" >3</text>
<line x1="286.1" y1="400" x2="288.9" y2="400" stroke="#1a1a1a" stroke-width="1.3" />
<text x="0" y="0" font-family="'Liberation Serif', serif" font-size="8" font-weight="bold" text-anchor="end" fill="#000" transform="translate(284.5 403.68) scale(1.2000 1)" >2</text>
<line x1="286.1" y1="424.6" x2="288.9" y2="424.6" stroke="#1a1a1a" stroke-width="1.3" />
<text x="0" y="0" font-family="'Liberation Serif', serif" font-size="8" font-weight="bold" text-anchor="end" fill="#000" transform="translate(284.5 428.28) scale(1.2000 1)" >1</text>
<line x1="286.1" y1="449.2" x2="288.9" y2="449.2" stroke="#1a1a1a" stroke-width="1.3" />
<text x="0" y="0" font-family="'Liberation Serif', serif" font-size="8" font-weight="bold" text-anchor="end" fill="#000" transform="translate(284.5 452.88) scale(1.2000 1)" >0</text>
<line x1="314.9" y1="449.1" x2="314.9" y2="451.9" stroke="#1a1a1a" stroke-width="1.3" />
<text x="0" y="0" font-family="'Liberation Serif', serif" font-size="8.2" font-weight="bold" text-anchor="middle" fill="#000" transform="translate(314.9 460.75) scale(1.1500 1)" >C</text>
<line x1="366.2" y1="449.1" x2="366.2" y2="451.9" stroke="#1a1a1a" stroke-width="1.3" />
<text x="0" y="0" font-family="'Liberation Serif', serif" font-size="8.2" font-weight="bold" text-anchor="middle" fill="#000" transform="translate(366.2 460.75) scale(1.1500 1)" >AO</text>
<line x1="418" y1="449.1" x2="418" y2="451.9" stroke="#1a1a1a" stroke-width="1.3" />
<text x="0" y="0" font-family="'Liberation Serif', serif" font-size="8.2" font-weight="bold" text-anchor="middle" fill="#000" transform="translate(418 460.75) scale(1.1500 1)" >OR</text>
<text x="0" y="0" font-family="'Liberation Serif', serif" font-size="8.8" font-weight="normal" text-anchor="middle" fill="#000" transform="translate(257.2 399.5) rotate(-90) scale(1.0275 1)" >Liver IGFBP-1</text>
<text x="0" y="0" font-family="'Liberation Serif', serif" font-size="8.8" font-weight="normal" text-anchor="middle" fill="#000" transform="translate(269 399.1) rotate(-90) scale(0.9591 1)" >relative mRNA</text>
<line x1="358.6" y1="363.9" x2="358.6" y2="362.35" stroke="#333" stroke-width="1.35" stroke-linecap="round"/>
<line x1="359.38" y1="364.35" x2="360.72" y2="363.57" stroke="#333" stroke-width="1.35" stroke-linecap="round"/>
<line x1="359.38" y1="365.25" x2="360.72" y2="366.03" stroke="#333" stroke-width="1.35" stroke-linecap="round"/>
<line x1="358.6" y1="365.7" x2="358.6" y2="367.25" stroke="#333" stroke-width="1.35" stroke-linecap="round"/>
<line x1="357.82" y1="365.25" x2="356.48" y2="366.03" stroke="#333" stroke-width="1.35" stroke-linecap="round"/>
<line x1="357.82" y1="364.35" x2="356.48" y2="363.57" stroke="#333" stroke-width="1.35" stroke-linecap="round"/>
<line x1="366.3" y1="363.9" x2="366.3" y2="362.35" stroke="#333" stroke-width="1.35" stroke-linecap="round"/>
<line x1="367.08" y1="364.35" x2="368.42" y2="363.57" stroke="#333" stroke-width="1.35" stroke-linecap="round"/>
<line x1="367.08" y1="365.25" x2="368.42" y2="366.03" stroke="#333" stroke-width="1.35" stroke-linecap="round"/>
<line x1="366.3" y1="365.7" x2="366.3" y2="367.25" stroke="#333" stroke-width="1.35" stroke-linecap="round"/>
<line x1="365.52" y1="365.25" x2="364.18" y2="366.03" stroke="#333" stroke-width="1.35" stroke-linecap="round"/>
<line x1="365.52" y1="364.35" x2="364.18" y2="363.57" stroke="#333" stroke-width="1.35" stroke-linecap="round"/>
<line x1="374" y1="363.9" x2="374" y2="362.35" stroke="#333" stroke-width="1.35" stroke-linecap="round"/>
<line x1="374.78" y1="364.35" x2="376.12" y2="363.57" stroke="#333" stroke-width="1.35" stroke-linecap="round"/>
<line x1="374.78" y1="365.25" x2="376.12" y2="366.03" stroke="#333" stroke-width="1.35" stroke-linecap="round"/>
<line x1="374" y1="365.7" x2="374" y2="367.25" stroke="#333" stroke-width="1.35" stroke-linecap="round"/>
<line x1="373.22" y1="365.25" x2="371.88" y2="366.03" stroke="#333" stroke-width="1.35" stroke-linecap="round"/>
<line x1="373.22" y1="364.35" x2="371.88" y2="363.57" stroke="#333" stroke-width="1.35" stroke-linecap="round"/>
<rect x="526.7" y="381" width="34.3" height="68.1" fill="#8cb8f4"/>
<line x1="543.85" y1="381" x2="543.85" y2="377.3" stroke="#7896d6" stroke-width="1.5" />
<line x1="535" y1="377.3" x2="553.3" y2="377.3" stroke="#7896d6" stroke-width="1.5" />
<rect x="578.3" y="403.1" width="34.4" height="46" fill="#007c00"/>
<line x1="595.5" y1="403.1" x2="595.5" y2="399" stroke="#0f620f" stroke-width="1.5" />
<line x1="586" y1="399" x2="604.3" y2="399" stroke="#0f620f" stroke-width="1.5" />
<rect x="629.3" y="380" width="34.7" height="69.1" fill="#ff0000"/>
<line x1="646.65" y1="380" x2="646.65" y2="373.3" stroke="#e0000c" stroke-width="1.5" />
<line x1="637.3" y1="373.3" x2="656" y2="373.3" stroke="#e0000c" stroke-width="1.5" />
<line x1="517.8" y1="350.35" x2="517.8" y2="449.75" stroke="#1a1a1a" stroke-width="1.3" />
<line x1="517.8" y1="449.1" x2="673" y2="449.1" stroke="#1a1a1a" stroke-width="1.3" />
<line x1="515" y1="351" x2="517.8" y2="351" stroke="#1a1a1a" stroke-width="1.3" />
<text x="0" y="0" font-family="'Liberation Serif', serif" font-size="8" font-weight="bold" text-anchor="end" fill="#000" transform="translate(513.5 354.08) scale(1.3000 1)" >1.5</text>
<line x1="515" y1="383.8" x2="517.8" y2="383.8" stroke="#1a1a1a" stroke-width="1.3" />
<text x="0" y="0" font-family="'Liberation Serif', serif" font-size="8" font-weight="bold" text-anchor="end" fill="#000" transform="translate(513.5 386.88) scale(1.3000 1)" >1.0</text>
<line x1="515" y1="416.6" x2="517.8" y2="416.6" stroke="#1a1a1a" stroke-width="1.3" />
<text x="0" y="0" font-family="'Liberation Serif', serif" font-size="8" font-weight="bold" text-anchor="end" fill="#000" transform="translate(513.5 419.68) scale(1.3000 1)" >0.5</text>
<line x1="515" y1="449.3" x2="517.8" y2="449.3" stroke="#1a1a1a" stroke-width="1.3" />
<text x="0" y="0" font-family="'Liberation Serif', serif" font-size="8" font-weight="bold" text-anchor="end" fill="#000" transform="translate(513.5 452.38) scale(1.3000 1)" >0.0</text>
<line x1="543.9" y1="449.1" x2="543.9" y2="451.9" stroke="#1a1a1a" stroke-width="1.3" />
<text x="0" y="0" font-family="'Liberation Serif', serif" font-size="8.2" font-weight="bold" text-anchor="middle" fill="#000" transform="translate(543.9 460.75) scale(1.1500 1)" >C</text>
<line x1="595.5" y1="449.1" x2="595.5" y2="451.9" stroke="#1a1a1a" stroke-width="1.3" />
<text x="0" y="0" font-family="'Liberation Serif', serif" font-size="8.2" font-weight="bold" text-anchor="middle" fill="#000" transform="translate(595.5 460.75) scale(1.1500 1)" >AO</text>
<line x1="646.7" y1="449.1" x2="646.7" y2="451.9" stroke="#1a1a1a" stroke-width="1.3" />
<text x="0" y="0" font-family="'Liberation Serif', serif" font-size="8.2" font-weight="bold" text-anchor="middle" fill="#000" transform="translate(646.7 460.75) scale(1.1500 1)" >OR</text>
<text x="0" y="0" font-family="'Liberation Serif', serif" font-size="8.8" font-weight="normal" text-anchor="middle" fill="#000" transform="translate(486.4 398.8) rotate(-90) scale(1.0275 1)" >Liver IGFBP-3</text>
<text x="0" y="0" font-family="'Liberation Serif', serif" font-size="8.8" font-weight="normal" text-anchor="middle" fill="#000" transform="translate(499 398.45) rotate(-90) scale(0.9832 1)" >relative mRNA</text>
<line x1="587.6" y1="392.8" x2="587.6" y2="391.25" stroke="#333" stroke-width="1.35" stroke-linecap="round"/>
<line x1="588.38" y1="393.25" x2="589.72" y2="392.47" stroke="#333" stroke-width="1.35" stroke-linecap="round"/>
<line x1="588.38" y1="394.15" x2="589.72" y2="394.93" stroke="#333" stroke-width="1.35" stroke-linecap="round"/>
<line x1="587.6" y1="394.6" x2="587.6" y2="396.15" stroke="#333" stroke-width="1.35" stroke-linecap="round"/>
<line x1="586.82" y1="394.15" x2="585.48" y2="394.93" stroke="#333" stroke-width="1.35" stroke-linecap="round"/>
<line x1="586.82" y1="393.25" x2="585.48" y2="392.47" stroke="#333" stroke-width="1.35" stroke-linecap="round"/>
<line x1="595.3" y1="392.8" x2="595.3" y2="391.25" stroke="#333" stroke-width="1.35" stroke-linecap="round"/>
<line x1="596.08" y1="393.25" x2="597.42" y2="392.47" stroke="#333" stroke-width="1.35" stroke-linecap="round"/>
<line x1="596.08" y1="394.15" x2="597.42" y2="394.93" stroke="#333" stroke-width="1.35" stroke-linecap="round"/>
<line x1="595.3" y1="394.6" x2="595.3" y2="396.15" stroke="#333" stroke-width="1.35" stroke-linecap="round"/>
<line x1="594.52" y1="394.15" x2="593.18" y2="394.93" stroke="#333" stroke-width="1.35" stroke-linecap="round"/>
<line x1="594.52" y1="393.25" x2="593.18" y2="392.47" stroke="#333" stroke-width="1.35" stroke-linecap="round"/>
<line x1="603" y1="392.8" x2="603" y2="391.25" stroke="#333" stroke-width="1.35" stroke-linecap="round"/>
<line x1="603.78" y1="393.25" x2="605.12" y2="392.47" stroke="#333" stroke-width="1.35" stroke-linecap="round"/>
<line x1="603.78" y1="394.15" x2="605.12" y2="394.93" stroke="#333" stroke-width="1.35" stroke-linecap="round"/>
<line x1="603" y1="394.6" x2="603" y2="396.15" stroke="#333" stroke-width="1.35" stroke-linecap="round"/>
<line x1="602.22" y1="394.15" x2="600.88" y2="394.93" stroke="#333" stroke-width="1.35" stroke-linecap="round"/>
<line x1="602.22" y1="393.25" x2="600.88" y2="392.47" stroke="#333" stroke-width="1.35" stroke-linecap="round"/>
<line x1="58.9" y1="139.1" x2="58.9" y2="209.4" stroke="#1a1a1a" stroke-width="1.6" />
<line x1="58.9" y1="208.6" x2="185.2" y2="208.6" stroke="#1a1a1a" stroke-width="1.6" />
<line x1="58.9" y1="139.6" x2="61.1" y2="139.6" stroke="#1a1a1a" stroke-width="1.6" />
<text x="0" y="0" font-family="'Liberation Sans', sans-serif" font-size="6.5" font-weight="normal" text-anchor="end" fill="#000" transform="translate(51 141.94)" >150</text>
<line x1="58.9" y1="162.6" x2="61.1" y2="162.6" stroke="#1a1a1a" stroke-width="1.6" />
<text x="0" y="0" font-family="'Liberation Sans', sans-serif" font-size="6.5" font-weight="normal" text-anchor="end" fill="#000" transform="translate(51 164.94)" >100</text>
<line x1="58.9" y1="185.6" x2="61.1" y2="185.6" stroke="#1a1a1a" stroke-width="1.6" />
<text x="0" y="0" font-family="'Liberation Sans', sans-serif" font-size="6.5" font-weight="normal" text-anchor="end" fill="#000" transform="translate(51 187.94)" >50</text>
<line x1="58.9" y1="208.6" x2="61.1" y2="208.6" stroke="#1a1a1a" stroke-width="1.6" />
<text x="0" y="0" font-family="'Liberation Sans', sans-serif" font-size="6.5" font-weight="normal" text-anchor="end" fill="#000" transform="translate(51 210.94)" >0</text>
<line x1="66.2" y1="208.6" x2="66.2" y2="210.8" stroke="#1a1a1a" stroke-width="1.6" />
<line x1="73.8" y1="208.6" x2="73.8" y2="210.8" stroke="#1a1a1a" stroke-width="1.6" />
<line x1="81.4" y1="208.6" x2="81.4" y2="210.8" stroke="#1a1a1a" stroke-width="1.6" />
<line x1="89" y1="208.6" x2="89" y2="210.8" stroke="#1a1a1a" stroke-width="1.6" />
<line x1="96.6" y1="208.6" x2="96.6" y2="210.8" stroke="#1a1a1a" stroke-width="1.6" />
<line x1="104.2" y1="208.6" x2="104.2" y2="210.8" stroke="#1a1a1a" stroke-width="1.6" />
<line x1="111.8" y1="208.6" x2="111.8" y2="210.8" stroke="#1a1a1a" stroke-width="1.6" />
<line x1="119.4" y1="208.6" x2="119.4" y2="210.8" stroke="#1a1a1a" stroke-width="1.6" />
<line x1="127" y1="208.6" x2="127" y2="210.8" stroke="#1a1a1a" stroke-width="1.6" />
<line x1="134.6" y1="208.6" x2="134.6" y2="210.8" stroke="#1a1a1a" stroke-width="1.6" />
<line x1="142.2" y1="208.6" x2="142.2" y2="210.8" stroke="#1a1a1a" stroke-width="1.6" />
<line x1="149.8" y1="208.6" x2="149.8" y2="210.8" stroke="#1a1a1a" stroke-width="1.6" />
<line x1="157.4" y1="208.6" x2="157.4" y2="210.8" stroke="#1a1a1a" stroke-width="1.6" />
<line x1="165" y1="208.6" x2="165" y2="210.8" stroke="#1a1a1a" stroke-width="1.6" />
<line x1="172.6" y1="208.6" x2="172.6" y2="210.8" stroke="#1a1a1a" stroke-width="1.6" />
<line x1="180.2" y1="208.6" x2="180.2" y2="210.8" stroke="#1a1a1a" stroke-width="1.6" />
<text x="0" y="0" font-family="'Liberation Sans', sans-serif" font-size="6.5" font-weight="normal" text-anchor="middle" fill="#000" transform="translate(92.9 220.94)" >1</text>
<text x="0" y="0" font-family="'Liberation Sans', sans-serif" font-size="6.5" font-weight="normal" text-anchor="middle" fill="#000" transform="translate(123.2 220.94)" >2</text>
<text x="0" y="0" font-family="'Liberation Sans', sans-serif" font-size="6.5" font-weight="normal" text-anchor="middle" fill="#000" transform="translate(153.7 220.94)" >3</text>
<text x="0" y="0" font-family="'Liberation Sans', sans-serif" font-size="6.5" font-weight="normal" text-anchor="middle" fill="#000" transform="translate(184.2 220.94)" >4</text>
<path d="M62.4,208 L70,208 L77.6,208.2 L85.2,208.2 L92.8,208 L100.4,149.1 L108,182.3 L115.6,201.4 L123.2,189.3 L130.8,203.5 L138.4,195.6 L146,207.2 L153.6,208 L161.2,208.4 L168.8,208.4 L176.4,208.4" fill="none" stroke="#7f9fdc" stroke-width="1.3" stroke-linejoin="round"/>
<circle cx="62.4" cy="208" r="2.05" fill="#7f9fdc"/>
<circle cx="70" cy="208" r="2.05" fill="#7f9fdc"/>
<circle cx="77.6" cy="208.2" r="2.05" fill="#7f9fdc"/>
<circle cx="85.2" cy="208.2" r="2.05" fill="#7f9fdc"/>
<circle cx="92.8" cy="208" r="2.05" fill="#7f9fdc"/>
<circle cx="100.4" cy="149.1" r="2.05" fill="#7f9fdc"/>
<circle cx="108" cy="182.3" r="2.05" fill="#7f9fdc"/>
<circle cx="115.6" cy="201.4" r="2.05" fill="#7f9fdc"/>
<circle cx="123.2" cy="189.3" r="2.05" fill="#7f9fdc"/>
<circle cx="130.8" cy="203.5" r="2.05" fill="#7f9fdc"/>
<circle cx="138.4" cy="195.6" r="2.05" fill="#7f9fdc"/>
<circle cx="146" cy="207.2" r="2.05" fill="#7f9fdc"/>
<circle cx="153.6" cy="208" r="2.05" fill="#7f9fdc"/>
<circle cx="161.2" cy="208.4" r="2.05" fill="#7f9fdc"/>
<circle cx="168.8" cy="208.4" r="2.05" fill="#7f9fdc"/>
<circle cx="176.4" cy="208.4" r="2.05" fill="#7f9fdc"/>
<line x1="211.8" y1="139" x2="211.8" y2="209.9" stroke="#1a1a1a" stroke-width="1.6" />
<line x1="211.8" y1="209.1" x2="340.7" y2="209.1" stroke="#1a1a1a" stroke-width="1.6" />
<line x1="211.8" y1="139.6" x2="214" y2="139.6" stroke="#1a1a1a" stroke-width="1.6" />
<text x="0" y="0" font-family="'Liberation Sans', sans-serif" font-size="6.5" font-weight="normal" text-anchor="end" fill="#000" transform="translate(204 141.94)" >150</text>
<line x1="211.8" y1="162.6" x2="214" y2="162.6" stroke="#1a1a1a" stroke-width="1.6" />
<text x="0" y="0" font-family="'Liberation Sans', sans-serif" font-size="6.5" font-weight="normal" text-anchor="end" fill="#000" transform="translate(204 164.94)" >100</text>
<line x1="211.8" y1="185.8" x2="214" y2="185.8" stroke="#1a1a1a" stroke-width="1.6" />
<text x="0" y="0" font-family="'Liberation Sans', sans-serif" font-size="6.5" font-weight="normal" text-anchor="end" fill="#000" transform="translate(204 188.14)" >50</text>
<line x1="211.8" y1="209.1" x2="214" y2="209.1" stroke="#1a1a1a" stroke-width="1.6" />
<text x="0" y="0" font-family="'Liberation Sans', sans-serif" font-size="6.5" font-weight="normal" text-anchor="end" fill="#000" transform="translate(204 211.44)" >0</text>
<line x1="219.09" y1="209.1" x2="219.09" y2="211.3" stroke="#1a1a1a" stroke-width="1.6" />
<line x1="227.18" y1="209.1" x2="227.18" y2="211.3" stroke="#1a1a1a" stroke-width="1.6" />
<line x1="235.27" y1="209.1" x2="235.27" y2="211.3" stroke="#1a1a1a" stroke-width="1.6" />
<line x1="243.36" y1="209.1" x2="243.36" y2="211.3" stroke="#1a1a1a" stroke-width="1.6" />
<line x1="251.45" y1="209.1" x2="251.45" y2="211.3" stroke="#1a1a1a" stroke-width="1.6" />
<line x1="259.54" y1="209.1" x2="259.54" y2="211.3" stroke="#1a1a1a" stroke-width="1.6" />
<line x1="267.63" y1="209.1" x2="267.63" y2="211.3" stroke="#1a1a1a" stroke-width="1.6" />
<line x1="275.72" y1="209.1" x2="275.72" y2="211.3" stroke="#1a1a1a" stroke-width="1.6" />
<line x1="283.81" y1="209.1" x2="283.81" y2="211.3" stroke="#1a1a1a" stroke-width="1.6" />
<line x1="291.9" y1="209.1" x2="291.9" y2="211.3" stroke="#1a1a1a" stroke-width="1.6" />
<line x1="299.99" y1="209.1" x2="299.99" y2="211.3" stroke="#1a1a1a" stroke-width="1.6" />
<line x1="308.08" y1="209.1" x2="308.08" y2="211.3" stroke="#1a1a1a" stroke-width="1.6" />
<line x1="316.17" y1="209.1" x2="316.17" y2="211.3" stroke="#1a1a1a" stroke-width="1.6" />
<line x1="324.26" y1="209.1" x2="324.26" y2="211.3" stroke="#1a1a1a" stroke-width="1.6" />
<line x1="332.35" y1="209.1" x2="332.35" y2="211.3" stroke="#1a1a1a" stroke-width="1.6" />
<line x1="340.44" y1="209.1" x2="340.44" y2="211.3" stroke="#1a1a1a" stroke-width="1.6" />
<text x="0" y="0" font-family="'Liberation Sans', sans-serif" font-size="6.5" font-weight="normal" text-anchor="middle" fill="#000" transform="translate(239.5 220.94)" >1</text>
<text x="0" y="0" font-family="'Liberation Sans', sans-serif" font-size="6.5" font-weight="normal" text-anchor="middle" fill="#000" transform="translate(272 220.94)" >2</text>
<text x="0" y="0" font-family="'Liberation Sans', sans-serif" font-size="6.5" font-weight="normal" text-anchor="middle" fill="#000" transform="translate(304.2 220.94)" >3</text>
<text x="0" y="0" font-family="'Liberation Sans', sans-serif" font-size="6.5" font-weight="normal" text-anchor="middle" fill="#000" transform="translate(336.4 220.94)" >4</text>
<path d="M215.2,203.9 L223.29,206.6 L231.38,207.2 L239.47,207.5 L247.56,205.3 L255.65,202.4 L263.74,205.9 L271.83,207.2 L279.92,207.5 L288.01,207.6 L296.1,207.6 L304.19,207.6 L312.28,207.6 L320.37,207.6 L328.46,207.6 L336.55,207.6" fill="none" stroke="#1fa64a" stroke-width="1.5" stroke-linejoin="round"/>
<circle cx="215.2" cy="203.9" r="2.25" fill="#1fa64a"/>
<circle cx="223.29" cy="206.6" r="2.25" fill="#1fa64a"/>
<circle cx="231.38" cy="207.2" r="2.25" fill="#1fa64a"/>
<circle cx="239.47" cy="207.5" r="2.25" fill="#1fa64a"/>
<circle cx="247.56" cy="205.3" r="2.25" fill="#1fa64a"/>
<circle cx="255.65" cy="202.4" r="2.25" fill="#1fa64a"/>
<circle cx="263.74" cy="205.9" r="2.25" fill="#1fa64a"/>
<circle cx="271.83" cy="207.2" r="2.25" fill="#1fa64a"/>
<circle cx="279.92" cy="207.5" r="2.25" fill="#1fa64a"/>
<circle cx="288.01" cy="207.6" r="2.25" fill="#1fa64a"/>
<circle cx="296.1" cy="207.6" r="2.25" fill="#1fa64a"/>
<circle cx="304.19" cy="207.6" r="2.25" fill="#1fa64a"/>
<circle cx="312.28" cy="207.6" r="2.25" fill="#1fa64a"/>
<circle cx="320.37" cy="207.6" r="2.25" fill="#1fa64a"/>
<circle cx="328.46" cy="207.6" r="2.25" fill="#1fa64a"/>
<circle cx="336.55" cy="207.6" r="2.25" fill="#1fa64a"/>
<line x1="58.6" y1="244.3" x2="58.6" y2="315" stroke="#1a1a1a" stroke-width="1.6" />
<line x1="58.6" y1="314.2" x2="187.4" y2="314.2" stroke="#1a1a1a" stroke-width="1.6" />
<line x1="58.6" y1="245.1" x2="60.8" y2="245.1" stroke="#1a1a1a" stroke-width="1.6" />
<text x="0" y="0" font-family="'Liberation Sans', sans-serif" font-size="6.5" font-weight="normal" text-anchor="end" fill="#000" transform="translate(51 247.44)" >150</text>
<line x1="58.6" y1="268" x2="60.8" y2="268" stroke="#1a1a1a" stroke-width="1.6" />
<text x="0" y="0" font-family="'Liberation Sans', sans-serif" font-size="6.5" font-weight="normal" text-anchor="end" fill="#000" transform="translate(51 270.34)" >100</text>
<line x1="58.6" y1="291" x2="60.8" y2="291" stroke="#1a1a1a" stroke-width="1.6" />
<text x="0" y="0" font-family="'Liberation Sans', sans-serif" font-size="6.5" font-weight="normal" text-anchor="end" fill="#000" transform="translate(51 293.34)" >50</text>
<line x1="58.6" y1="313.9" x2="60.8" y2="313.9" stroke="#1a1a1a" stroke-width="1.6" />
<text x="0" y="0" font-family="'Liberation Sans', sans-serif" font-size="6.5" font-weight="normal" text-anchor="end" fill="#000" transform="translate(51 316.24)" >0</text>
<line x1="66.1" y1="314.2" x2="66.1" y2="316.4" stroke="#1a1a1a" stroke-width="1.6" />
<line x1="74.2" y1="314.2" x2="74.2" y2="316.4" stroke="#1a1a1a" stroke-width="1.6" />
<line x1="82.3" y1="314.2" x2="82.3" y2="316.4" stroke="#1a1a1a" stroke-width="1.6" />
<line x1="90.4" y1="314.2" x2="90.4" y2="316.4" stroke="#1a1a1a" stroke-width="1.6" />
<line x1="98.5" y1="314.2" x2="98.5" y2="316.4" stroke="#1a1a1a" stroke-width="1.6" />
<line x1="106.6" y1="314.2" x2="106.6" y2="316.4" stroke="#1a1a1a" stroke-width="1.6" />
<line x1="114.7" y1="314.2" x2="114.7" y2="316.4" stroke="#1a1a1a" stroke-width="1.6" />
<line x1="122.8" y1="314.2" x2="122.8" y2="316.4" stroke="#1a1a1a" stroke-width="1.6" />
<line x1="130.9" y1="314.2" x2="130.9" y2="316.4" stroke="#1a1a1a" stroke-width="1.6" />
<line x1="139" y1="314.2" x2="139" y2="316.4" stroke="#1a1a1a" stroke-width="1.6" />
<line x1="147.1" y1="314.2" x2="147.1" y2="316.4" stroke="#1a1a1a" stroke-width="1.6" />
<line x1="155.2" y1="314.2" x2="155.2" y2="316.4" stroke="#1a1a1a" stroke-width="1.6" />
<line x1="163.3" y1="314.2" x2="163.3" y2="316.4" stroke="#1a1a1a" stroke-width="1.6" />
<line x1="171.4" y1="314.2" x2="171.4" y2="316.4" stroke="#1a1a1a" stroke-width="1.6" />
<line x1="179.5" y1="314.2" x2="179.5" y2="316.4" stroke="#1a1a1a" stroke-width="1.6" />
<line x1="187.6" y1="314.2" x2="187.6" y2="316.4" stroke="#1a1a1a" stroke-width="1.6" />
<text x="0" y="0" font-family="'Liberation Sans', sans-serif" font-size="6.5" font-weight="normal" text-anchor="middle" fill="#000" transform="translate(86.3 325.54)" >1</text>
<text x="0" y="0" font-family="'Liberation Sans', sans-serif" font-size="6.5" font-weight="normal" text-anchor="middle" fill="#000" transform="translate(118.7 325.54)" >2</text>
<text x="0" y="0" font-family="'Liberation Sans', sans-serif" font-size="6.5" font-weight="normal" text-anchor="middle" fill="#000" transform="translate(151.1 325.54)" >3</text>
<text x="0" y="0" font-family="'Liberation Sans', sans-serif" font-size="6.5" font-weight="normal" text-anchor="middle" fill="#000" transform="translate(183.3 325.54)" >4</text>
<path d="M62.1,308.5 C63.45,308.95 67.5,310.75 70.2,311.2 C72.9,311.65 75.6,311.2 78.3,311.2 C81,311.2 83.7,311.2 86.4,311.2 C89.1,311.2 91.8,311.2 94.5,311.2 C97.2,311.2 99.9,311.2 102.6,311.2 C105.3,311.2 108,311.2 110.7,311.2 C113.4,311.2 116.1,311.2 118.8,311.2 C121.5,311.2 124.2,312.8 126.9,311.2 C129.6,309.6 132.3,303.1 135,301.6 C137.7,300.1 140.4,301.73 143.1,302.2 C145.8,302.67 148.5,303 151.2,304.4 C153.9,305.8 156.6,313.13 159.3,310.6 C162,308.07 164.7,298.63 167.4,289.2 C170.1,279.77 172.8,250.57 175.5,254 C178.2,257.43 182.25,300.5 183.6,309.8" fill="none" stroke="#7f9fdc" stroke-width="1.3" stroke-linejoin="round"/>
<circle cx="62.1" cy="308.5" r="2.05" fill="#7f9fdc"/>
<circle cx="70.2" cy="311.2" r="2.05" fill="#7f9fdc"/>
<circle cx="78.3" cy="311.2" r="2.05" fill="#7f9fdc"/>
<circle cx="86.4" cy="311.2" r="2.05" fill="#7f9fdc"/>
<circle cx="94.5" cy="311.2" r="2.05" fill="#7f9fdc"/>
<circle cx="102.6" cy="311.2" r="2.05" fill="#7f9fdc"/>
<circle cx="110.7" cy="311.2" r="2.05" fill="#7f9fdc"/>
<circle cx="118.8" cy="311.2" r="2.05" fill="#7f9fdc"/>
<circle cx="126.9" cy="311.2" r="2.05" fill="#7f9fdc"/>
<circle cx="135" cy="301.6" r="2.05" fill="#7f9fdc"/>
<circle cx="143.1" cy="302.2" r="2.05" fill="#7f9fdc"/>
<circle cx="151.2" cy="304.4" r="2.05" fill="#7f9fdc"/>
<circle cx="159.3" cy="310.6" r="2.05" fill="#7f9fdc"/>
<circle cx="167.4" cy="289.2" r="2.05" fill="#7f9fdc"/>
<circle cx="175.5" cy="254" r="2.05" fill="#7f9fdc"/>
<circle cx="183.6" cy="309.8" r="2.05" fill="#7f9fdc"/>
<line x1="210.9" y1="244.1" x2="210.9" y2="314.5" stroke="#1a1a1a" stroke-width="1.6" />
<line x1="210.9" y1="313.7" x2="339.1" y2="313.7" stroke="#1a1a1a" stroke-width="1.6" />
<line x1="210.9" y1="244.6" x2="213.1" y2="244.6" stroke="#1a1a1a" stroke-width="1.6" />
<text x="0" y="0" font-family="'Liberation Sans', sans-serif" font-size="6.5" font-weight="normal" text-anchor="end" fill="#000" transform="translate(203.2 246.94)" >150</text>
<line x1="210.9" y1="267.6" x2="213.1" y2="267.6" stroke="#1a1a1a" stroke-width="1.6" />
<text x="0" y="0" font-family="'Liberation Sans', sans-serif" font-size="6.5" font-weight="normal" text-anchor="end" fill="#000" transform="translate(203.2 269.94)" >100</text>
<line x1="210.9" y1="290.6" x2="213.1" y2="290.6" stroke="#1a1a1a" stroke-width="1.6" />
<text x="0" y="0" font-family="'Liberation Sans', sans-serif" font-size="6.5" font-weight="normal" text-anchor="end" fill="#000" transform="translate(203.2 292.94)" >50</text>
<line x1="210.9" y1="313.6" x2="213.1" y2="313.6" stroke="#1a1a1a" stroke-width="1.6" />
<text x="0" y="0" font-family="'Liberation Sans', sans-serif" font-size="6.5" font-weight="normal" text-anchor="end" fill="#000" transform="translate(203.2 315.94)" >0</text>
<line x1="218.4" y1="313.7" x2="218.4" y2="315.9" stroke="#1a1a1a" stroke-width="1.6" />
<line x1="226.5" y1="313.7" x2="226.5" y2="315.9" stroke="#1a1a1a" stroke-width="1.6" />
<line x1="234.6" y1="313.7" x2="234.6" y2="315.9" stroke="#1a1a1a" stroke-width="1.6" />
<line x1="242.7" y1="313.7" x2="242.7" y2="315.9" stroke="#1a1a1a" stroke-width="1.6" />
<line x1="250.8" y1="313.7" x2="250.8" y2="315.9" stroke="#1a1a1a" stroke-width="1.6" />
<line x1="258.9" y1="313.7" x2="258.9" y2="315.9" stroke="#1a1a1a" stroke-width="1.6" />
<line x1="267" y1="313.7" x2="267" y2="315.9" stroke="#1a1a1a" stroke-width="1.6" />
<line x1="275.1" y1="313.7" x2="275.1" y2="315.9" stroke="#1a1a1a" stroke-width="1.6" />
<line x1="283.2" y1="313.7" x2="283.2" y2="315.9" stroke="#1a1a1a" stroke-width="1.6" />
<line x1="291.3" y1="313.7" x2="291.3" y2="315.9" stroke="#1a1a1a" stroke-width="1.6" />
<line x1="299.4" y1="313.7" x2="299.4" y2="315.9" stroke="#1a1a1a" stroke-width="1.6" />
<line x1="307.5" y1="313.7" x2="307.5" y2="315.9" stroke="#1a1a1a" stroke-width="1.6" />
<line x1="315.6" y1="313.7" x2="315.6" y2="315.9" stroke="#1a1a1a" stroke-width="1.6" />
<line x1="323.7" y1="313.7" x2="323.7" y2="315.9" stroke="#1a1a1a" stroke-width="1.6" />
<line x1="331.8" y1="313.7" x2="331.8" y2="315.9" stroke="#1a1a1a" stroke-width="1.6" />
<line x1="339.9" y1="313.7" x2="339.9" y2="315.9" stroke="#1a1a1a" stroke-width="1.6" />
<text x="0" y="0" font-family="'Liberation Sans', sans-serif" font-size="6.5" font-weight="normal" text-anchor="middle" fill="#000" transform="translate(239.2 325.84)" >1</text>
<text x="0" y="0" font-family="'Liberation Sans', sans-serif" font-size="6.5" font-weight="normal" text-anchor="middle" fill="#000" transform="translate(271 325.84)" >2</text>
<text x="0" y="0" font-family="'Liberation Sans', sans-serif" font-size="6.5" font-weight="normal" text-anchor="middle" fill="#000" transform="translate(303.5 325.84)" >3</text>
<text x="0" y="0" font-family="'Liberation Sans', sans-serif" font-size="6.5" font-weight="normal" text-anchor="middle" fill="#000" transform="translate(335.7 325.84)" >4</text>
<path d="M214.3,306.5 L222.4,312.2 L230.5,309.9 L238.6,308.1 L246.7,310.3 L254.8,306.9 L262.9,308.8 L271,312.2 L279.1,312.6 L287.2,312.6 L295.3,312.6 L303.4,311.5 L311.5,306.5 L319.6,308.1 L327.7,312.2 L335.8,312.6" fill="none" stroke="#1fa64a" stroke-width="1.5" stroke-linejoin="round"/>
<circle cx="214.3" cy="306.5" r="2.25" fill="#1fa64a"/>
<circle cx="222.4" cy="312.2" r="2.25" fill="#1fa64a"/>
<circle cx="230.5" cy="309.9" r="2.25" fill="#1fa64a"/>
<circle cx="238.6" cy="308.1" r="2.25" fill="#1fa64a"/>
<circle cx="246.7" cy="310.3" r="2.25" fill="#1fa64a"/>
<circle cx="254.8" cy="306.9" r="2.25" fill="#1fa64a"/>
<circle cx="262.9" cy="308.8" r="2.25" fill="#1fa64a"/>
<circle cx="271" cy="312.2" r="2.25" fill="#1fa64a"/>
<circle cx="279.1" cy="312.6" r="2.25" fill="#1fa64a"/>
<circle cx="287.2" cy="312.6" r="2.25" fill="#1fa64a"/>
<circle cx="295.3" cy="312.6" r="2.25" fill="#1fa64a"/>
<circle cx="303.4" cy="311.5" r="2.25" fill="#1fa64a"/>
<circle cx="311.5" cy="306.5" r="2.25" fill="#1fa64a"/>
<circle cx="319.6" cy="308.1" r="2.25" fill="#1fa64a"/>
<circle cx="327.7" cy="312.2" r="2.25" fill="#1fa64a"/>
<circle cx="335.8" cy="312.6" r="2.25" fill="#1fa64a"/>
<text x="0" y="0" font-family="'Liberation Serif', serif" font-size="15.8" font-weight="bold" text-anchor="start" fill="#000" transform="translate(62.9 149.8)" >C</text>
<text x="0" y="0" font-family="'Liberation Serif', serif" font-size="15.8" font-weight="bold" text-anchor="start" fill="#000" transform="translate(215.9 150.8)" >AO</text>
<text x="0" y="0" font-family="'Liberation Serif', serif" font-size="12" font-weight="normal" text-anchor="middle" fill="#000" transform="translate(30.3 221.5) rotate(-90) scale(1.0137 1)" >GH Concentration (ng ml<tspan dy="-3.96" font-size="7.8">-1</tspan><tspan dy="3.96">)</tspan></text>
<text x="0" y="0" font-family="'Liberation Serif', serif" font-size="13.1" font-weight="normal" text-anchor="start" fill="#000" transform="translate(168.8 337.5) scale(0.9491 1)" >Time</text>
<text x="0" y="0" font-family="'Liberation Serif', serif" font-size="13.1" font-weight="normal" text-anchor="start" fill="#000" transform="translate(199 337.5) scale(1.0264 1)" >(hour)</text>
<text x="0" y="0" font-family="'Liberation Serif', serif" font-size="24" font-weight="bold" text-anchor="start" fill="#000" transform="translate(3 17.7)" >a</text>
<text x="0" y="0" font-family="'Liberation Serif', serif" font-size="23.5" font-weight="bold" text-anchor="start" fill="#000" transform="translate(236.3 17.1)" >b</text>
<text x="0" y="0" font-family="'Liberation Serif', serif" font-size="24.5" font-weight="bold" text-anchor="start" fill="#000" transform="translate(463.2 17.6)" >c</text>
<text x="0" y="0" font-family="'Liberation Serif', serif" font-size="23.5" font-weight="bold" text-anchor="start" fill="#000" transform="translate(1.9 134.2)" >d</text>
<text x="0" y="0" font-family="'Liberation Serif', serif" font-size="24.5" font-weight="bold" text-anchor="start" fill="#000" transform="translate(332.7 134.4)" >e</text>
<text x="0" y="0" font-family="'Liberation Serif', serif" font-size="23" font-weight="bold" text-anchor="start" fill="#000" transform="translate(499.9 134.6)" >f</text>
<text x="0" y="0" font-family="'Liberation Serif', serif" font-size="22.5" font-weight="bold" text-anchor="start" fill="#000" transform="translate(343.4 232.6)" >g</text>
<text x="0" y="0" font-family="'Liberation Serif', serif" font-size="23.5" font-weight="bold" text-anchor="start" fill="#000" transform="translate(500 233.2)" >h</text>
<text x="0" y="0" font-family="'Liberation Serif', serif" font-size="23.5" font-weight="bold" text-anchor="start" fill="#000" transform="translate(0.8 352.4)" >i</text>
<text x="0" y="0" font-family="'Liberation Serif', serif" font-size="23.5" font-weight="bold" text-anchor="start" fill="#000" transform="translate(255.6 352.4)" >j</text>
<text x="0" y="0" font-family="'Liberation Serif', serif" font-size="23.5" font-weight="bold" text-anchor="start" fill="#000" transform="translate(476 352.4)" >k</text>
</svg>
</body></html>
